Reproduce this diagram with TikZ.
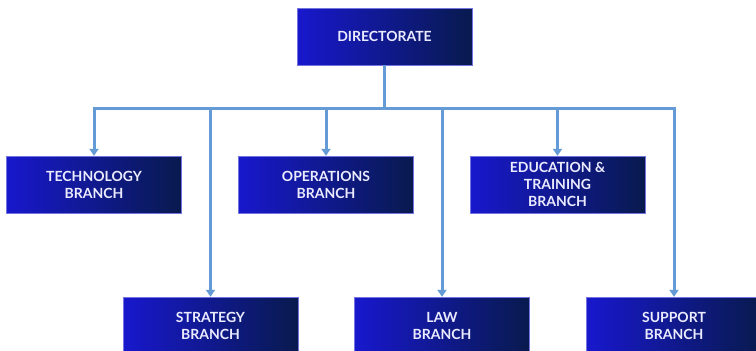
\documentclass[tikz,border=0pt]{standalone}
\usepackage{fontspec}
\setmainfont{Lato}
\usetikzlibrary{arrows.meta}
\definecolor{boxleft}{RGB}{24,24,205}
\definecolor{boxright}{RGB}{8,26,78}
\definecolor{linkblue}{RGB}{100,155,215}
\tikzset{
  unitbox/.style={minimum width=175pt, minimum height=57pt, inner sep=0pt,
    left color=boxleft, right color=boxright, draw=boxleft!60!white, line width=0.4pt,
    text=white!92!blue, font=\fontsize{14}{17}\selectfont\bfseries, align=center},
  link/.style={draw=linkblue, line width=3pt},
  arrowlink/.style={link, -{Triangle[width=9pt,length=7pt]}}
}
\begin{document}
\begin{tikzpicture}[x=1pt,y=-1pt]
\useasboundingbox (0,0) rectangle (756,351);
\fill[white] (0,0) rectangle (756,351);
\node[unitbox] (dir) at (384.5,36.5) {DIRECTORATE};
\node[unitbox] (tech) at (94,184.5) {TECHNOLOGY\\BRANCH};
\node[unitbox] (ops) at (326,184.5) {OPERATIONS\\BRANCH};
\node[unitbox] (edu) at (557.5,184.5) {EDUCATION \&\\TRAINING\\BRANCH};
\node[unitbox] (strat) at (210.5,325.5) {STRATEGY\\BRANCH};
\node[unitbox] (law) at (442,325.5) {LAW\\BRANCH};
\node[unitbox] (sup) at (674,325.5) {SUPPORT\\BRANCH};
\coordinate (bar) at (384.5,108);
\coordinate (barL) at (tech.north |- bar);
\coordinate (barR) at (sup.north |- bar);
\draw[link] (dir.south) -- (bar);
\draw[link, line cap=butt] ([xshift=-1.5pt]barL) -- ([xshift=1.5pt]barR);
\draw[arrowlink] (barL) -- (tech.north);
\draw[arrowlink] (ops.north |- bar) -- (ops.north);
\draw[arrowlink] (edu.north |- bar) -- (edu.north);
\draw[arrowlink] (strat.north |- bar) -- (strat.north);
\draw[arrowlink] (law.north |- bar) -- (law.north);
\draw[arrowlink] (barR) -- (sup.north);
\end{tikzpicture}
\end{document}
